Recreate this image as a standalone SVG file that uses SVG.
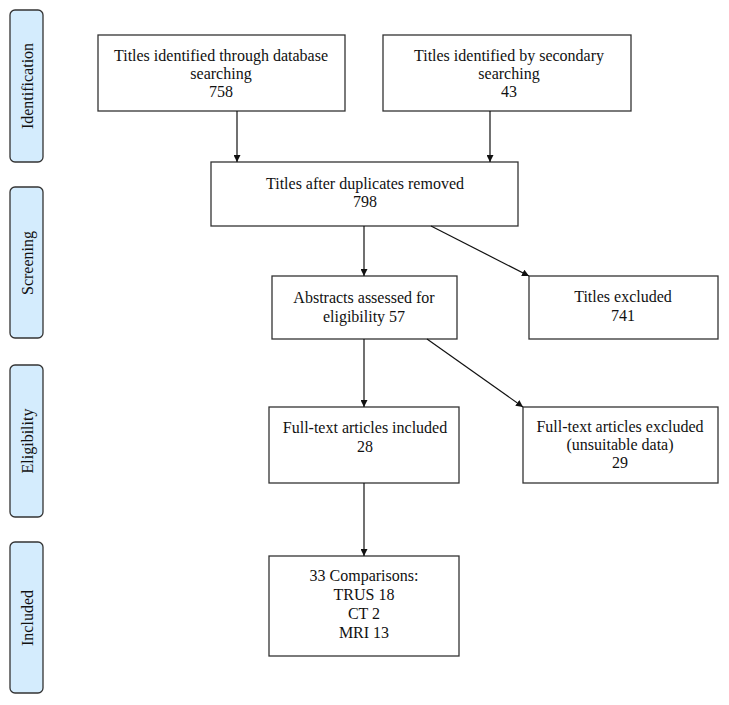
<svg xmlns="http://www.w3.org/2000/svg" width="729" height="705" viewBox="0 0 729 705">
<style>
.box{fill:#fff;stroke:#333;stroke-width:1.3}
.lab{fill:#d4ecfd;stroke:#333;stroke-width:1.3}
text{font-family:"Liberation Serif","Times New Roman",serif;font-size:16px;fill:#111;text-anchor:middle}
.side{dominant-baseline:central}
.conn line{stroke:#111;stroke-width:1.2;marker-end:url(#ah)}
</style>
<defs>
<marker id="ah" viewBox="0 0 10 10" refX="10" refY="5" markerWidth="7" markerHeight="7" markerUnits="userSpaceOnUse" orient="auto">
<path d="M0,0 L10,5 L0,10 z" fill="#111"/>
</marker>
</defs>
<rect width="729" height="705" fill="#fff"/>
<g id="phase-identification"><rect class="lab" x="10" y="10" width="33" height="152" rx="5"/><text class="side" transform="translate(27,86) rotate(-90)">Identification</text></g>
<g id="phase-screening"><rect class="lab" x="10" y="187" width="33" height="151" rx="5"/><text class="side" transform="translate(27,263) rotate(-90)">Screening</text></g>
<g id="phase-eligibility"><rect class="lab" x="10" y="365" width="33" height="152" rx="5"/><text class="side" transform="translate(27,441) rotate(-90)">Eligibility</text></g>
<g id="phase-included"><rect class="lab" x="10" y="542" width="33" height="151" rx="5"/><text class="side" transform="translate(27,618) rotate(-90)">Included</text></g>

<g id="n-database"><rect class="box" x="98" y="35" width="247" height="76"/><text x="221" y="61">Titles identified through database</text><text x="221" y="79">searching</text><text x="221" y="97">758</text></g>
<g id="n-secondary"><rect class="box" x="383" y="35" width="248" height="76"/><text x="509" y="61">Titles identified by secondary</text><text x="509" y="79">searching</text><text x="509" y="97">43</text></g>
<g id="n-duplicates"><rect class="box" x="211" y="162" width="307" height="64"/><text x="365" y="189">Titles after duplicates removed</text><text x="365" y="207">798</text></g>
<g id="n-abstracts"><rect class="box" x="272" y="276" width="185" height="63"/><text x="364" y="303">Abstracts assessed for</text><text x="364" y="322">eligibility 57</text></g>
<g id="n-titles-excluded"><rect class="box" x="529" y="276" width="189" height="63"/><text x="623" y="302">Titles excluded</text><text x="623" y="321">741</text></g>
<g id="n-fulltext-included"><rect class="box" x="269" y="407" width="190" height="76"/><text x="365" y="433">Full-text articles included</text><text x="365" y="452">28</text></g>
<g id="n-fulltext-excluded"><rect class="box" x="523" y="407" width="195" height="76"/><text x="620" y="432">Full-text articles excluded</text><text x="620" y="450">(unsuitable data)</text><text x="620" y="468">29</text></g>
<g id="n-comparisons"><rect class="box" x="269" y="556" width="190" height="100"/><text x="364" y="581">33 Comparisons:</text><text x="364" y="600">TRUS 18</text><text x="364" y="619">CT 2</text><text x="364" y="638">MRI 13</text></g>

<g id="connectors" class="conn">
<line x1="237" y1="111" x2="237" y2="162"/>
<line x1="490" y1="111" x2="490" y2="162"/>
<line x1="364" y1="226" x2="364" y2="276"/>
<line x1="431" y1="226" x2="529" y2="276"/>
<line x1="364" y1="339" x2="364" y2="407"/>
<line x1="427" y1="339" x2="523" y2="407"/>
<line x1="364" y1="483" x2="364" y2="556"/>
</g>
</svg>
